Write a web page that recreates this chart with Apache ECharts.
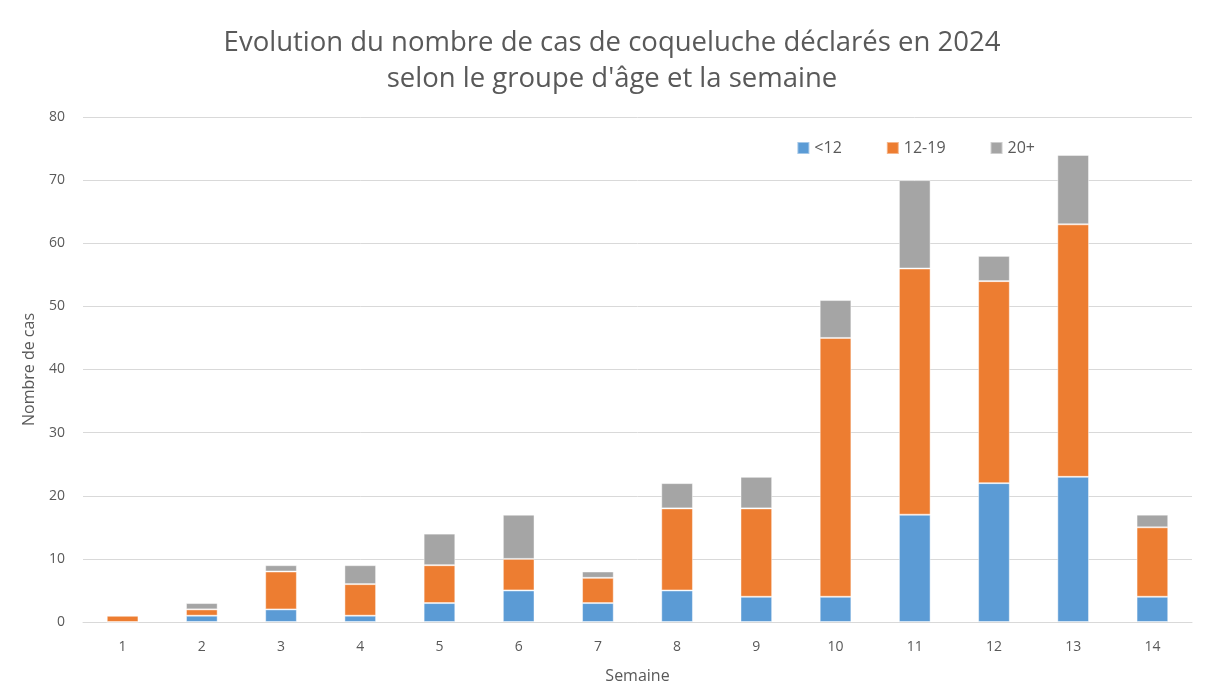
<!DOCTYPE html>
<html><head><meta charset="utf-8">
<script src="https://cdn.jsdelivr.net/npm/echarts@6/dist/echarts.min.js"></script>
<style>html,body{margin:0;padding:0;background:#fff}#c{width:1224px;height:693px}</style>
</head><body><div id="c"></div>
<script>
const categories = ['1','2','3','4','5','6','7','8','9','10','11','12','13','14'];
const under12 = [0,1,2,1,3,5,3,5,4,4,17,22,23,4];
const age12to19 = [1,1,6,5,6,5,4,13,14,41,39,32,40,11];
const age20plus = [0,1,1,3,5,7,1,4,5,6,14,4,11,2];
const seriesNames = ['<12','12-19','20+'];
const colors = ['#5b9bd5','#ed7d31','#a5a5a5'];
const font = '"Open Sans", "Liberation Sans", sans-serif';
const chart = echarts.init(document.getElementById('c'));
const mk = (name, data, color) => ({
  name, type:'bar', stack:'s', data, barWidth:'40%',
  itemStyle:{color, borderColor:'rgba(255,255,255,0.45)', borderWidth:1}
});
chart.setOption({
  animation:false,
  title:{text:'Evolution du nombre de cas de coqueluche déclarés en 2024\nselon le groupe d\'âge et la semaine',
    left:'center', top:20,
    textStyle:{fontFamily:font, fontSize:27.5, fontWeight:'normal', color:'#595959', lineHeight:36}},
  legend:{data:seriesNames, right:184, top:135, itemWidth:12, itemHeight:12, itemGap:44,
    icon:'rect', textStyle:{fontFamily:font, fontSize:16, color:'#595959'}},
  grid:{left:83, right:32, top:117, bottom:71},
  xAxis:{type:'category', data:categories, name:'Semaine', nameLocation:'middle', nameGap:46,
    nameTextStyle:{fontFamily:font, fontSize:16, color:'#595959'},
    axisLine:{lineStyle:{color:'#d9d9d9'}}, axisTick:{show:false},
    axisLabel:{fontFamily:font, fontSize:14, color:'#595959', margin:18}},
  yAxis:{type:'value', min:0, max:80, interval:10, name:'Nombre de cas', nameLocation:'middle', nameGap:46,
    nameTextStyle:{fontFamily:font, fontSize:16, color:'#595959'},
    axisLine:{show:false}, axisTick:{show:false},
    axisLabel:{fontFamily:font, fontSize:14, color:'#595959', margin:18},
    splitLine:{lineStyle:{color:'#d9d9d9'}}},
  series:[mk(seriesNames[0], under12, colors[0]), mk(seriesNames[1], age12to19, colors[1]), mk(seriesNames[2], age20plus, colors[2])]
});
</script></body></html>
